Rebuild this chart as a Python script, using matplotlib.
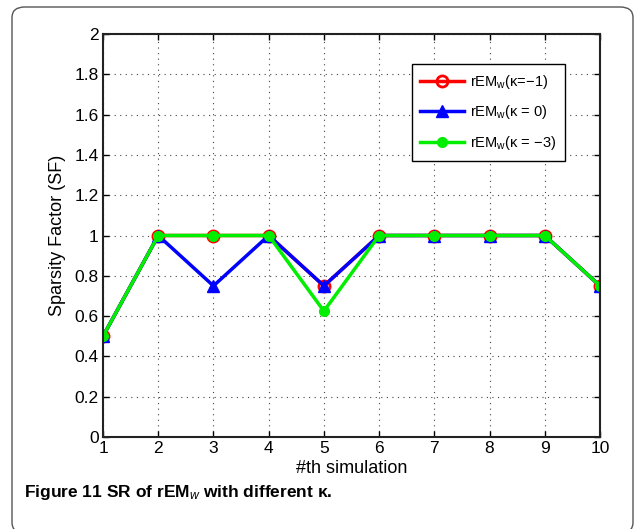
import matplotlib
matplotlib.use('Agg')
import matplotlib.pyplot as plt
from matplotlib.patches import FancyBboxPatch

plt.rcParams['font.family'] = ['Liberation Sans', 'DejaVu Sans']
plt.rcParams['mathtext.fontset'] = 'custom'
plt.rcParams['mathtext.rm'] = 'Liberation Sans'
plt.rcParams['mathtext.it'] = 'Liberation Sans:italic'
plt.rcParams['mathtext.bf'] = 'Liberation Sans:bold'

# data
sim = [1, 2, 3, 4, 5, 6, 7, 8, 9, 10]
sf_k_m1 = [0.5, 1, 1, 1, 0.75, 1, 1, 1, 1, 0.75]
sf_k_0 = [0.5, 1, 0.75, 1, 0.75, 1, 1, 1, 1, 0.75]
sf_k_m3 = [0.5, 1, 1, 1, 0.625, 1, 1, 1, 1, 0.75]
yticks = [0, 0.2, 0.4, 0.6, 0.8, 1, 1.2, 1.4, 1.6, 1.8, 2]
ytick_labels = ['0', '0.2', '0.4', '0.6', '0.8', '1', '1.2', '1.4', '1.6', '1.8', '2']

fig = plt.figure(figsize=(6.37, 5.29), dpi=100)

# rounded frame around figure + caption
frame = FancyBboxPatch((12 / 637, -4 / 529), 621 / 637, 526 / 529,
                       boxstyle='round,pad=0,rounding_size=0.02',
                       transform=fig.transFigure, facecolor='none',
                       edgecolor='#555555', linewidth=1.0)
fig.patches.append(frame)

ax = fig.add_axes([103 / 637, 1 - 437 / 529, 497 / 637, 403 / 529])

ax.plot(sim, sf_k_m1, color='red', linewidth=2.5, marker='o', markersize=8,
        markerfacecolor='none', markeredgewidth=2, label=r'rEM$_{\rm w}$(κ=−1)')
ax.plot(sim, sf_k_0, color='blue', linewidth=2.5, marker='^', markersize=9,
        label=r'rEM$_{\rm w}$(κ = 0)')
ax.plot(sim, sf_k_m3, color='#00ee00', linewidth=2.5, marker='o', markersize=7,
        label=r'rEM$_{\rm w}$(κ = −3)')

ax.set_xlim(1, 10)
ax.set_ylim(0, 2)
ax.set_xticks(sim)
ax.set_yticks(yticks)
ax.set_yticklabels(ytick_labels)
ax.tick_params(direction='in', top=True, right=True, labelsize=12.5, length=4,
               width=1, pad=3)
ax.grid(True, linestyle=(0, (1, 4)), color='#444444', linewidth=0.8)
for s in ax.spines.values():
    s.set_linewidth(1.5)
    s.set_color('#222222')

ax.set_xlabel('#th simulation', fontsize=13, labelpad=3)
ax.set_ylabel('Sparsity Factor (SF)', fontsize=13, labelpad=6)

leg = ax.legend(loc='upper right', bbox_to_anchor=(0.944, 0.943), fontsize=10.5,
                fancybox=False, edgecolor='black', framealpha=1,
                handlelength=3.0, borderpad=0.6, labelspacing=0.85,
                handletextpad=0.4)
leg.get_frame().set_linewidth(1.0)

fig.text(24 / 637, 1 - 493 / 529,
         r'$\mathbf{Figure\ 11\ SR\ of\ rEM}_{\mathit{w}}$' + r'$\mathbf{\ with\ different\ }$' + 'κ.',
         fontsize=12.5, fontweight='bold', va='center', ha='left')

plt.savefig('out.png', dpi=100)
